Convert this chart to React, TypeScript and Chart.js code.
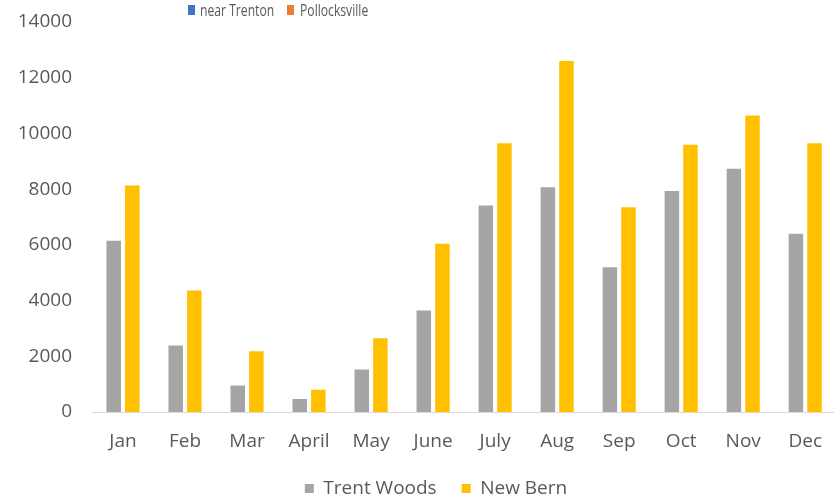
import React, { useEffect, useRef } from "react";
import { Chart, registerables } from "chart.js";

Chart.register(...registerables);

const months = ["Jan", "Feb", "Mar", "April", "May", "June", "July", "Aug", "Sep", "Oct", "Nov", "Dec"];
const trentWoods = [6150, 2390, 950, 470, 1530, 3640, 7410, 8070, 5200, 7930, 8730, 6400];
const newBern = [8130, 4360, 2180, 800, 2650, 6040, 9650, 12600, 7350, 9590, 10640, 9650];
const yMin = 0;
const yMax = 14000;
const yStep = 2000;
const topLegendNames = ["near Trenton", "Pollocksville"];
const topLegendColors = ["#4472C4", "#ED7D31"];
const bottomNames = ["Trent Woods", "New Bern"];
const bottomColors = ["#A5A5A5", "#FFC000"];

const FONT = "'Open Sans', 'DejaVu Sans', sans-serif";
const TEXT = "#595959";

const legendShift = {
  id: "legendShift",
  afterLayout(chart: any) {
    const lg = chart.legend;
    if (lg) {
      lg.left = 32;
      lg.right = 840;
    }
  },
};

export default function App() {
  const ref = useRef<HTMLCanvasElement>(null);

  useEffect(() => {
    if (!ref.current) return;
    const chart = new Chart(ref.current, {
      type: "bar",
      data: {
        labels: months,
        datasets: [
          {
            label: bottomNames[0],
            data: trentWoods,
            backgroundColor: bottomColors[0],
            borderWidth: 0,
          },
          {
            label: bottomNames[1],
            data: newBern,
            backgroundColor: bottomColors[1],
            borderWidth: 0,
          },
        ],
      },
      plugins: [legendShift],
      options: {
        responsive: false,
        animation: false,
        maintainAspectRatio: false,
        datasets: {
          bar: {
            categoryPercentage: 0.6,
            barPercentage: 0.78,
          },
        },
        layout: {
          padding: { left: 0, right: 0, top: 22, bottom: -7 },
        },
        plugins: {
          tooltip: { enabled: false },
          legend: {
            position: "bottom",
            labels: {
              boxWidth: 9,
              boxHeight: 9,
              padding: 25,
              color: TEXT,
              font: { family: FONT, size: 19 },
            },
          },
        },
        scales: {
          x: {
            grid: { display: false, drawTicks: false },
            border: { display: true, color: "#D9D9D9", width: 1 },
            ticks: {
              color: TEXT,
              font: { family: FONT, size: 19 },
              padding: 18,
              maxRotation: 0,
              autoSkip: false,
            },
            afterFit: (scale: any) => {
              scale.height = 42;
            },
          },
          y: {
            min: yMin,
            max: yMax,
            grid: { display: false, drawTicks: false },
            border: { display: false },
            ticks: {
              stepSize: yStep,
              color: TEXT,
              font: { family: FONT, size: 19 },
              padding: 20,
              callback: (v: any) => String(v),
            },
            afterFit: (scale: any) => {
              scale.width = 92;
              scale.paddingTop = 0;
              scale.paddingBottom = 0;
            },
          },
        },
      },
    });
    return () => chart.destroy();
  }, []);

  const legendText: React.CSSProperties = {
    position: "absolute",
    top: 0,
    fontFamily: FONT,
    fontSize: 16,
    lineHeight: "20px",
    color: TEXT,
    whiteSpace: "nowrap",
    transform: "scaleX(0.76)",
    transformOrigin: "left center",
  };

  const boxLefts = [188, 287];
  const textLefts = [200, 300];

  return (
    <div
      style={{
        position: "fixed",
        left: 0,
        top: 0,
        width: 834,
        height: 501,
        overflow: "hidden",
        background: "#ffffff",
      }}
    >
      <canvas
        ref={ref}
        width={840}
        height={501}
        style={{ position: "absolute", left: 0, top: 0, width: 840, height: 501 }}
      />
      {topLegendNames.map((name, i) => (
        <React.Fragment key={name}>
          <div
            style={{
              position: "absolute",
              left: boxLefts[i],
              top: 5,
              width: 7,
              height: 10,
              background: topLegendColors[i],
            }}
          />
          <div style={{ ...legendText, left: textLefts[i] }}>{name}</div>
        </React.Fragment>
      ))}
    </div>
  );
}
